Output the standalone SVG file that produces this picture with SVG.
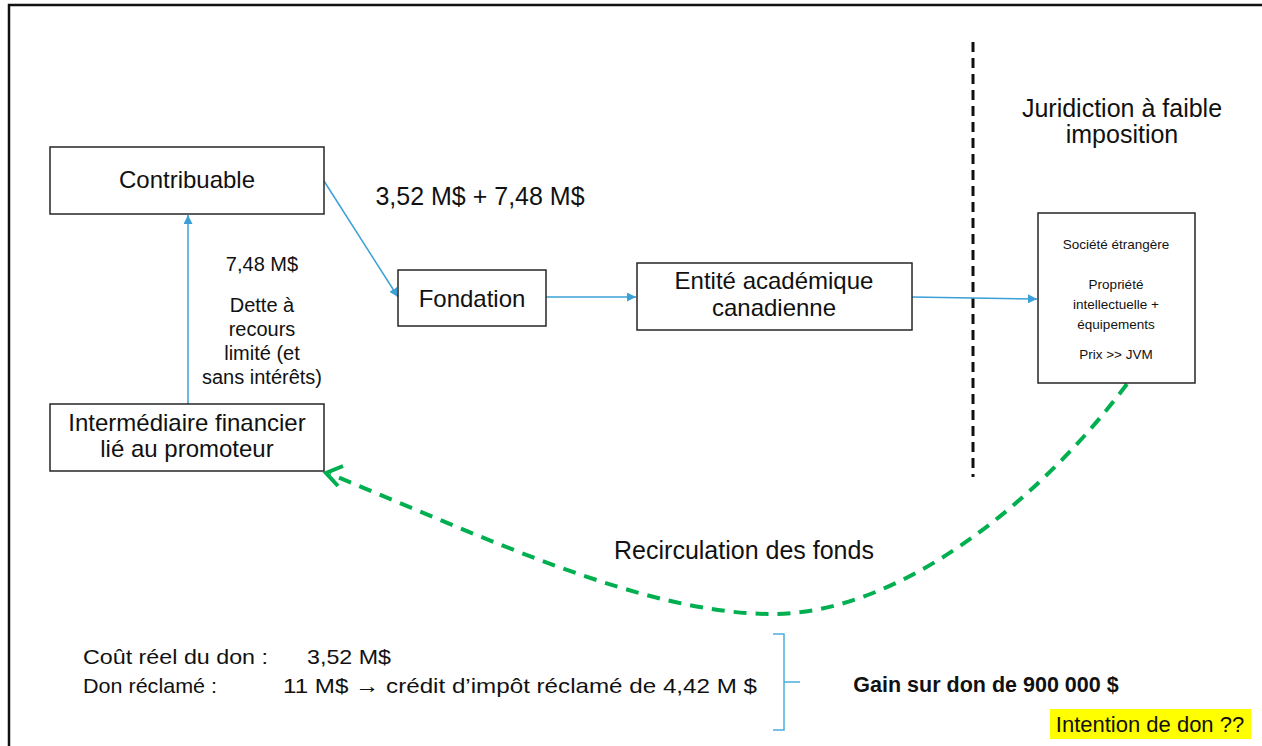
<svg xmlns="http://www.w3.org/2000/svg" width="1262" height="746" viewBox="0 0 1262 746">
<style>
.box{fill:#ffffff;stroke:#262626;stroke-width:1.5}
.t{font-family:"Liberation Sans",Arial,sans-serif;fill:#111111;text-anchor:middle}
.l{text-anchor:start}
.n{font-size:24px}
.s{font-size:20px}
.xs{font-size:13.5px}
.blue{stroke:#3aa0d6;stroke-width:1.5;fill:none}
</style>
<defs>
<marker id="ab" viewBox="0 0 10 10" refX="10" refY="5" markerWidth="9" markerHeight="9" markerUnits="userSpaceOnUse" orient="auto">
<path d="M0,0 L10,5 L0,10 z" fill="#3aa0d6"/>
</marker>
</defs>
<rect x="0" y="0" width="1262" height="746" fill="#ffffff"/>
<path d="M9,746 L9,5 L1262,5" fill="none" stroke="#111" stroke-width="2.5"/>

<line x1="973" y1="42" x2="973" y2="477" stroke="#111" stroke-width="3" stroke-dasharray="10,6"/>

<g id="connectors">
<line class="blue" x1="188" y1="404" x2="188" y2="215" marker-end="url(#ab)"/>
<line class="blue" x1="324" y1="181" x2="398" y2="297" marker-end="url(#ab)"/>
<line class="blue" x1="546" y1="297" x2="636" y2="297" marker-end="url(#ab)"/>
<line class="blue" x1="912" y1="297" x2="1037" y2="299" marker-end="url(#ab)"/>
<path d="M1127,384 C1040,500 900,615 770,614 C640,613 480,535 330,474" fill="none" stroke="#00b050" stroke-width="4" stroke-dasharray="13,9"/>
<path d="M343,466 L326,473 L338,486" fill="none" stroke="#00b050" stroke-width="4"/>
<path d="M773,634 L784,634 L784,730 L773,730 M784,682 L800,682" fill="none" stroke="#4aaee0" stroke-width="1.5"/>
</g>

<g id="contribuable">
<rect class="box" x="50" y="147" width="274" height="67"/>
<text class="t n" x="187" y="188">Contribuable</text>
</g>
<g id="intermediaire">
<rect class="box" x="50" y="404" width="274" height="67"/>
<text class="t n" x="187" y="431">Intermédiaire financier</text>
<text class="t n" x="187" y="457">lié au promoteur</text>
</g>
<g id="fondation">
<rect class="box" x="398" y="270" width="148" height="56"/>
<text class="t n" x="472" y="307">Fondation</text>
</g>
<g id="entite">
<rect class="box" x="637" y="263" width="275" height="67"/>
<text class="t n" x="774" y="289">Entité académique</text>
<text class="t n" x="774" y="316">canadienne</text>
</g>
<g id="societe">
<rect class="box" x="1038" y="213" width="157" height="170"/>
<text class="t xs" x="1116" y="249">Société étrangère</text>
<text class="t xs" x="1116" y="289">Propriété</text>
<text class="t xs" x="1116" y="309">intellectuelle +</text>
<text class="t xs" x="1116" y="329">équipements</text>
<text class="t xs" x="1116" y="359">Prix &gt;&gt; JVM</text>
</g>

<g id="labels">
<text class="t" font-size="25" x="480" y="205">3,52 M$ + 7,48 M$</text>
<text class="t s" x="262" y="271">7,48 M$</text>
<text class="t s" x="262" y="312">Dette à</text>
<text class="t s" x="262" y="336">recours</text>
<text class="t s" x="262" y="360">limité (et</text>
<text class="t s" x="262" y="384">sans intérêts)</text>
<text class="t" font-size="25" x="1122" y="117">Juridiction à faible</text>
<text class="t" font-size="25" x="1122" y="143">imposition</text>
<text class="t" font-size="25" x="744" y="559">Recirculation des fonds</text>
<text class="t l" font-size="21" x="83" y="664" textLength="185" lengthAdjust="spacingAndGlyphs">Coût réel du don :</text>
<text class="t l" font-size="21" x="307" y="664" textLength="84" lengthAdjust="spacingAndGlyphs">3,52 M$</text>
<text class="t l" font-size="21" x="83" y="693" textLength="134" lengthAdjust="spacingAndGlyphs">Don réclamé :</text>
<text class="t l" font-size="21" x="283" y="693" textLength="474" lengthAdjust="spacingAndGlyphs">11 M$ <tspan font-weight="bold">→</tspan> crédit d’impôt réclamé de 4,42 M $</text>
<text class="t" font-size="21.5" font-weight="bold" x="986" y="692">Gain sur don de 900 000 $</text>
<rect x="1050" y="709" width="201" height="30" fill="#ffff00"/>
<text class="t" font-size="22" x="1150" y="732">Intention de don ??</text>
</g>
</svg>
